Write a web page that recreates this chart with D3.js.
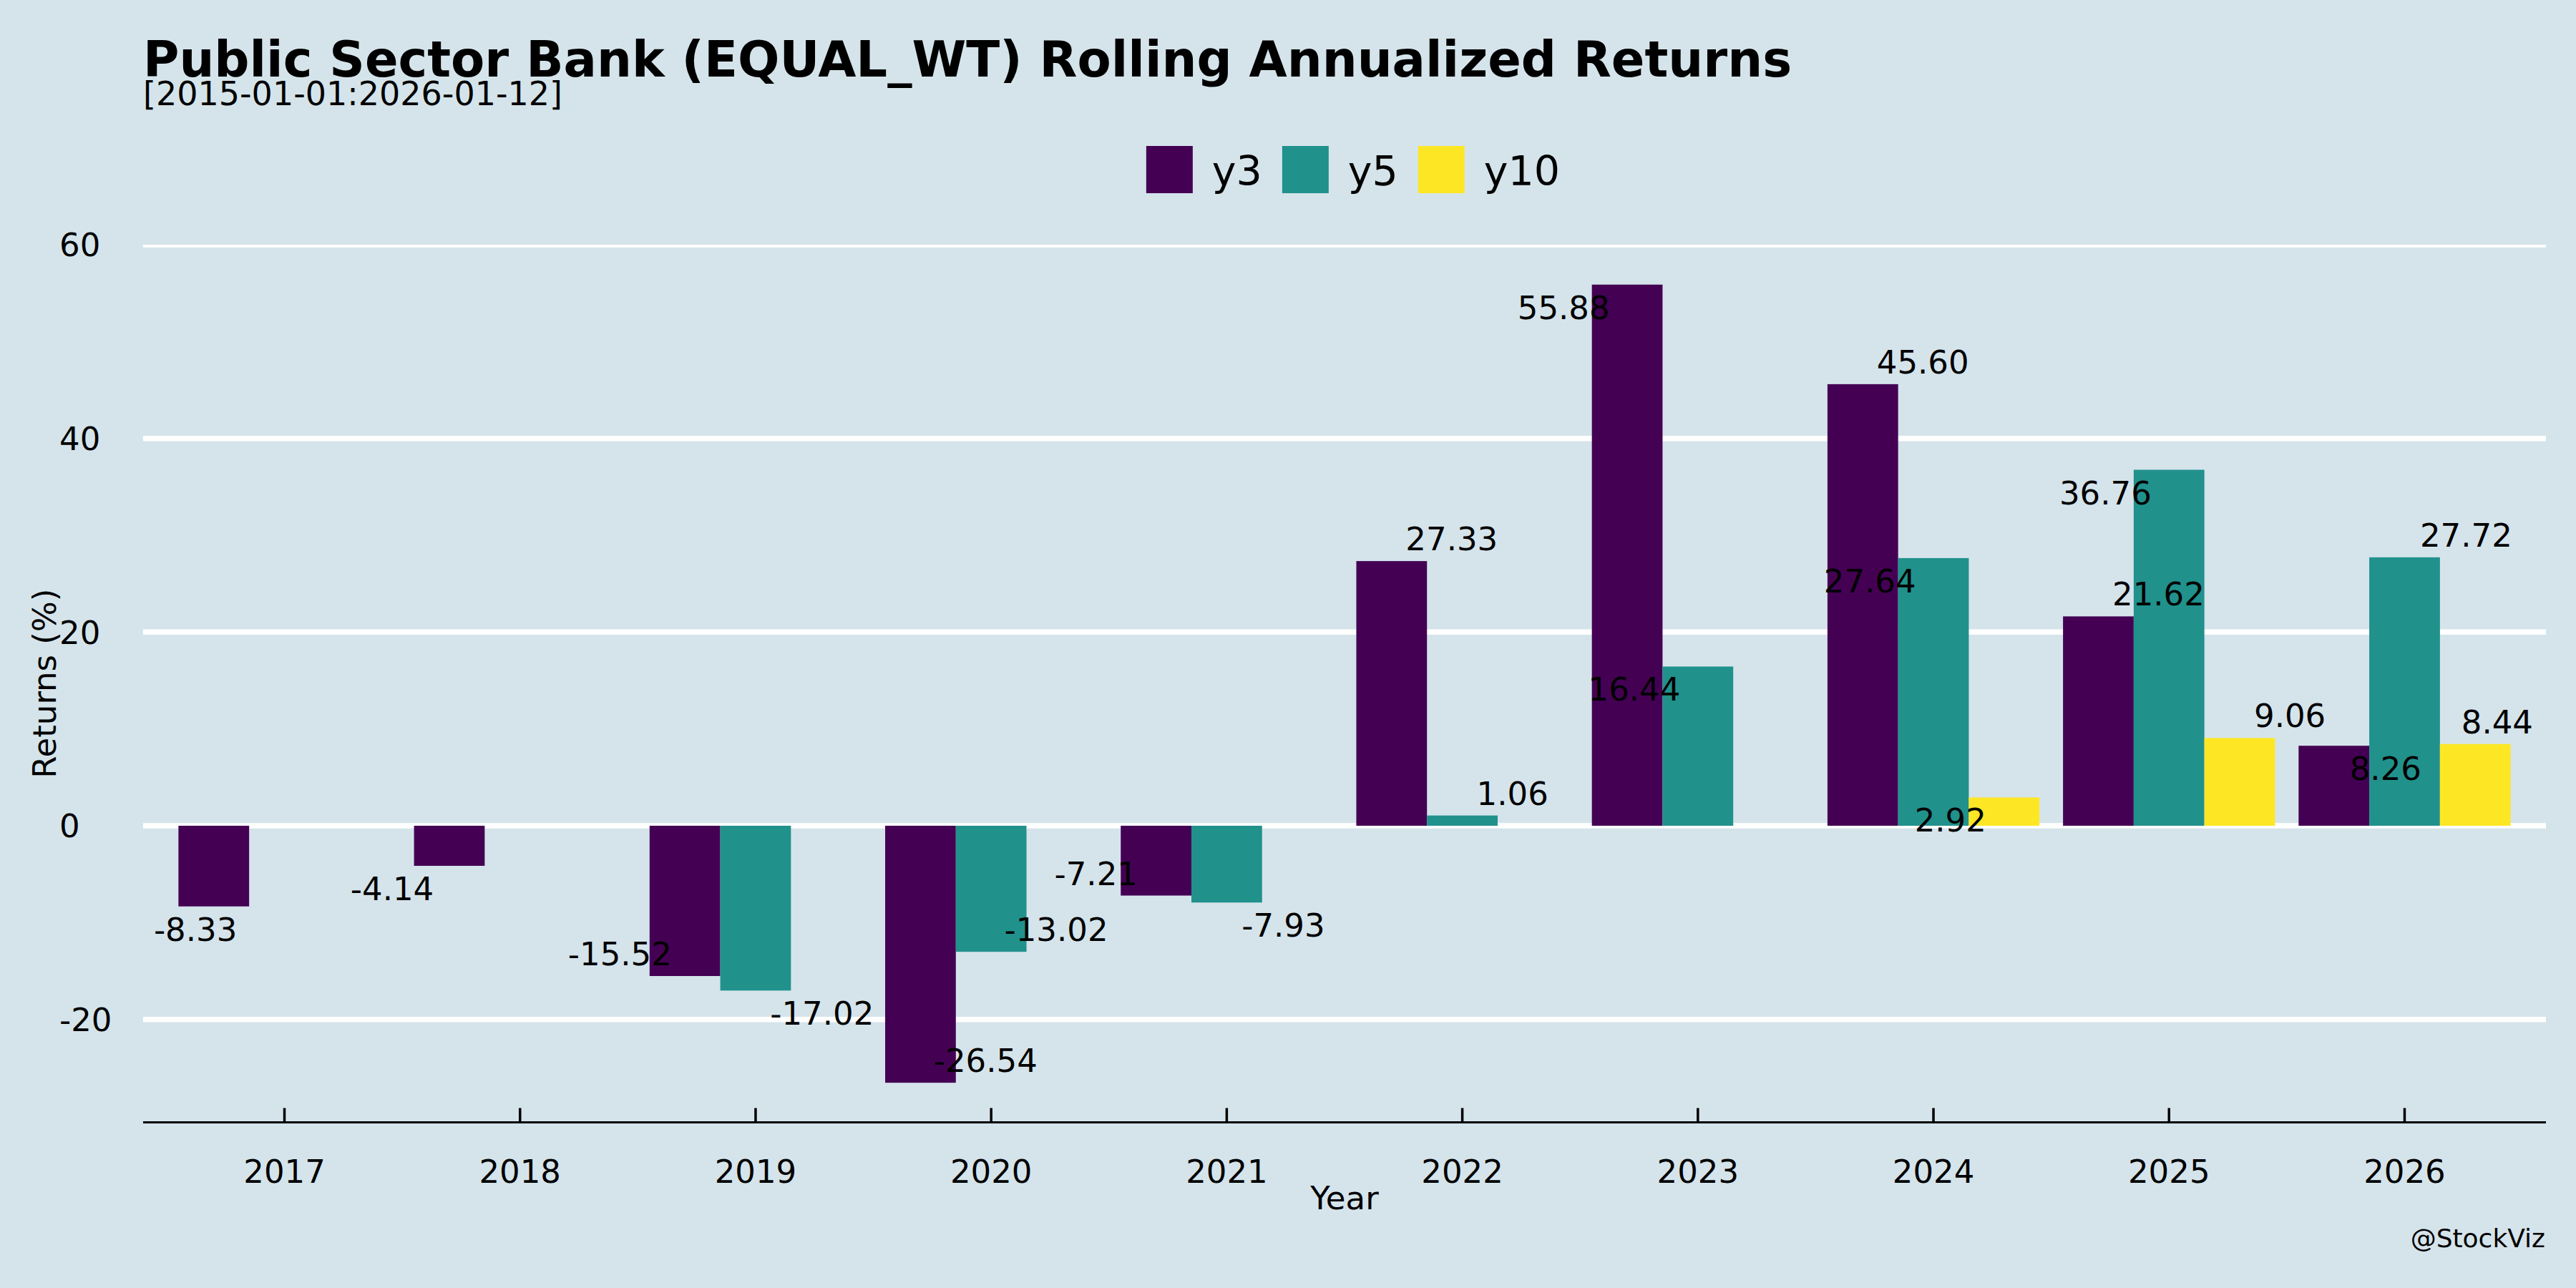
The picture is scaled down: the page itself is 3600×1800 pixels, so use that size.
<!DOCTYPE html>
<html>
<head>
<meta charset="utf-8">
<script src="https://cdn.jsdelivr.net/npm/d3@7"></script>
<style>
  body { margin: 0; background: #d5e4eb; }
  text { font-family: "DejaVu Sans", sans-serif; fill: #000; }
</style>
</head>
<body>
<script>
// data
var years = ["2017", "2018", "2019", "2020", "2021", "2022", "2023", "2024", "2025", "2026"];
var seriesNames = ["y3", "y5", "y10"];
var y3 = [-8.33, -4.14, -15.52, -26.54, -7.21, 27.33, 55.88, 45.60, 21.62, 8.26];
var y5 = [null, null, -17.02, -13.02, -7.93, 1.06, 16.44, 27.64, 36.76, 27.72];
var y10 = [null, null, null, null, null, null, null, 2.92, 9.06, 8.44];
var yTicks = [-20, 0, 20, 40, 60];

// label placement (as in the original, labels were nudged around the bar ends)
// dx in bar widths, side 1 = beyond the bar end, -1 = inside it
var labelDx = {
   y3: [-0.26, -0.81, -0.92, 0.92, -0.85, 0.85, -0.9, 0.85, 0.85, 0.73],
   y5: [0, 0, 0.94, 0.92, 0.80, 0.71, -0.9, -0.9, -0.9, 0.87],
   y10: [0, 0, 0, 0, 0, 0, 0, -0.76, 0.71, 0.31]
};
var labelSide = {
   y3: [1, 1, -1, -1, -1, 1, -1, 1, 1, -1],
   y5: [0, 0, 1, -1, 1, 1, -1, -1, -1, 1],
   y10: [0, 0, 0, 0, 0, 0, 0, -1, 1, 1]
};

var colors = {y3: "#440154", y5: "#21918c", y10: "#fde725"};
var values = {y3: y3, y5: y5, y10: y10};

var W = 3600, H = 1800;
// note: "top" is taken by window.top, so plot edges get a prefix
var plotL = 200, plotR = 3558, plotT = 342, plotB = 1568.5;

var svg = d3.select("body").append("svg")
   .attr("width", W)
   .attr("height", H);

svg.append("rect")
   .attr("width", W)
   .attr("height", H)
   .attr("fill", "#d5e4eb");

var x = d3.scaleBand()
   .domain(years)
   .range([plotL, plotR])
   .paddingInner(0.1)
   .paddingOuter(0.15);
var xSub = d3.scaleBand()
   .domain(seriesNames)
   .range([0, x.bandwidth()]);
var y = d3.scaleLinear()
   .domain([-30.63, 60])
   .range([plotB, plotT]);

// clip for gridlines (top one gets cut in half)
svg.append("clipPath").attr("id", "plotclip")
   .append("rect")
   .attr("x", plotL).attr("y", plotT)
   .attr("width", plotR - plotL).attr("height", plotB - plotT);

svg.append("g")
   .attr("clip-path", "url(#plotclip)")
   .selectAll("line")
   .data(yTicks)
   .enter().append("line")
   .attr("x1", plotL)
   .attr("x2", plotR)
   .attr("y1", function (d) { return y(d); })
   .attr("y2", function (d) { return y(d); })
   .attr("stroke", "#ffffff")
   .attr("stroke-width", 7.5);

// y tick labels, left aligned
svg.append("g")
   .selectAll("text")
   .data(yTicks)
   .enter().append("text")
   .attr("x", 83)
   .attr("y", function (d) { return y(d); })
   .attr("dy", "0.36em")
   .style("font-size", "45px")
   .text(function (d) { return d; });

// bars
var groups = svg.append("g").selectAll("g")
   .data(years)
   .enter().append("g")
   .attr("transform", function (d) { return "translate(" + x(d) + ",0)"; });

seriesNames.forEach(function (s) {
   groups.each(function (yr, i) {
      var v = values[s][i];
      if (v === null) return;
      d3.select(this).append("rect")
         .attr("x", xSub(s))
         .attr("width", xSub.bandwidth())
         .attr("y", y(Math.max(0, v)))
         .attr("height", Math.abs(y(v) - y(0)))
         .attr("fill", colors[s]);
   });
});

// value labels
seriesNames.forEach(function (s) {
   groups.each(function (yr, i) {
      var v = values[s][i];
      if (v === null) return;
      var bw = xSub.bandwidth();
      var cx = xSub(s) + bw / 2 + labelDx[s][i] * bw;
      var above = (v >= 0) === (labelSide[s][i] === 1);
      var ty = above ? y(v) - 15 : y(v) + 48;
      d3.select(this).append("text")
         .attr("x", cx)
         .attr("y", ty)
         .attr("text-anchor", "middle")
         .style("font-size", "45px")
         .text(v.toFixed(2));
   });
});

// bottom axis
var xAxis = d3.axisBottom(x).tickSize(0).tickPadding(0);
var ax = svg.append("g")
   .attr("transform", "translate(0," + plotB + ")")
   .call(xAxis);
ax.select(".domain").remove();
ax.append("line")
   .attr("x1", plotL).attr("x2", plotR)
   .attr("stroke", "#000").attr("stroke-width", 3);
ax.selectAll(".tick line").remove();
ax.selectAll(".tick").append("line")
   .attr("y1", 0).attr("y2", -20)
   .attr("stroke", "#000").attr("stroke-width", 3.5);
ax.selectAll(".tick text")
   .attr("y", 84)
   .attr("dy", null)
   .attr("fill", "#000")
   .style("font-family", "DejaVu Sans")
   .style("font-size", "45px");

// axis titles
svg.append("text")
   .attr("x", (plotL + plotR) / 2)
   .attr("y", 1690)
   .attr("text-anchor", "middle")
   .style("font-size", "45px")
   .text("Year");
svg.append("text")
   .attr("transform", "translate(78," + ((plotT + plotB) / 2) + ") rotate(-90)")
   .attr("text-anchor", "middle")
   .style("font-size", "45px")
   .text("Returns (%)");

// title + subtitle
svg.append("text")
   .attr("x", 200)
   .attr("y", 107)
   .style("font-size", "68.75px")
   .style("font-weight", "bold")
   .text("Public Sector Bank (EQUAL_WT) Rolling Annualized Returns");
svg.append("text")
   .attr("x", 200)
   .attr("y", 147)
   .style("font-size", "46px")
   .text("[2015-01-01:2026-01-12]");

// legend
var legend = svg.append("g");
var lx = 0;
seriesNames.forEach(function (s) {
   legend.append("rect")
      .attr("x", lx).attr("y", 204)
      .attr("width", 65).attr("height", 66)
      .attr("fill", colors[s]);
   var t = legend.append("text")
      .attr("x", lx + 92)
      .attr("y", 259)
      .style("font-size", "57px")
      .text(s);
   lx += 92 + t.node().getComputedTextLength() + 28;
});
var lw = lx - 28;
legend.attr("transform", "translate(" + (1891 - lw / 2) + ",0)");

// watermark
svg.append("text")
   .attr("x", 3557)
   .attr("y", 1743)
   .attr("text-anchor", "end")
   .style("font-size", "36px")
   .text("@StockViz");
</script>
</body>
</html>
